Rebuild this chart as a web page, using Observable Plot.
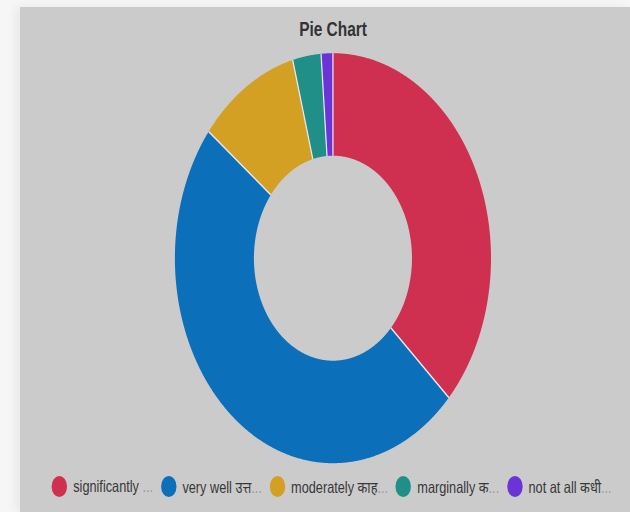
<!DOCTYPE html>
<html>
<head>
<meta charset="utf-8">
<script src="https://cdn.jsdelivr.net/npm/d3@7"></script>
<script src="https://cdn.jsdelivr.net/npm/@observablehq/plot@0.6"></script>
<style>
  html, body { margin: 0; padding: 0; background: #f6f6f6; width: 630px; height: 512px; overflow: hidden; }
  #panel { position: absolute; left: 20px; top: 7px; width: 610px; height: 505px; background: #cbcbcb; overflow: hidden;
           box-shadow: -4px 0 10px rgba(0,0,0,0.06); }
  #inner { width: 791px; transform: scaleX(0.771); transform-origin: 0 0; font-family: "Liberation Sans", Arial, "Noto Sans", sans-serif; }
  #title { height: 40px; line-height: 44px; padding-left: 21px; text-align: center; font-weight: bold; font-size: 20px; color: #333; }
  #chart { height: 420px; }
  #legend { height: 38px; display: flex; justify-content: flex-start; padding-left: 41px; align-items: center; gap: 10px; font-size: 16.5px; color: #383838; }
  .item { display: flex; align-items: center; gap: 8px; white-space: nowrap; }
  .sw { width: 20px; height: 21px; border-radius: 50%; display: inline-block; }
  .ell { color: #9a9a9a; }
</style>
</head>
<body>
<div id="panel">
  <div id="inner">
    <div id="title">Pie Chart</div>
    <div id="chart"></div>
    <div id="legend"></div>
  </div>
</div>
<script>
const categories = ["significantly", "very well उत्त", "moderately काह", "marginally क", "not at all कधी"];
const values = [36.9, 48.7, 10.3, 2.9, 1.2];
const palette = ["#d0304f", "#0b6fba", "#d4a024", "#1f8f88", "#6a34d8"];

const W = 791, H = 420, R = 205, cx = 405.4, cy = 210.7, inner = 0.5;

const arcs = d3.pie().sort(null).value(d => d)(values);
const poly = [];
arcs.forEach((a, i) => {
  const n = Math.max(3, Math.ceil((a.endAngle - a.startAngle) / 0.005));
  const pts = [];
  for (let k = 0; k <= n; k++) {
    const t = a.startAngle + (a.endAngle - a.startAngle) * k / n;
    pts.push({x: Math.sin(t), y: Math.cos(t)});
  }
  for (let k = n; k >= 0; k--) {
    const t = a.startAngle + (a.endAngle - a.startAngle) * k / n;
    pts.push({x: inner * Math.sin(t), y: inner * Math.cos(t)});
  }
  pts.push(pts[0]);
  pts.forEach(p => poly.push({...p, cat: categories[i]}));
});
const bounds = arcs.map(a => ({
  x1: inner * Math.sin(a.startAngle), y1: inner * Math.cos(a.startAngle),
  x2: Math.sin(a.startAngle), y2: Math.cos(a.startAngle)
}));

const chart = Plot.plot({
  width: W, height: H, margin: 0,
  x: {domain: [-cx / R, (W - cx) / R], axis: null},
  y: {domain: [-(H - cy) / R, cy / R], axis: null},
  color: {domain: categories, range: palette},
  style: {background: "transparent", overflow: "visible"},
  marks: [
    Plot.line(poly, {x: "x", y: "y", z: "cat", fill: "cat", stroke: "none", curve: "linear"}),
    Plot.link(bounds, {x1: "x1", y1: "y1", x2: "x2", y2: "y2", stroke: "#ebe8ef", strokeWidth: 1.6})
  ]
});
document.getElementById("chart").appendChild(chart);

const legend = document.getElementById("legend");
categories.forEach((c, i) => {
  const item = document.createElement("div");
  item.className = "item";
  const sw = document.createElement("span");
  sw.className = "sw";
  sw.style.background = palette[i];
  const tx = document.createElement("span");
  tx.textContent = c;
  const el = document.createElement("span");
  el.className = "ell";
  el.textContent = i === 0 ? " ..." : "...";
  tx.appendChild(el);
  item.appendChild(sw);
  item.appendChild(tx);
  legend.appendChild(item);
});
</script>
</body>
</html>
